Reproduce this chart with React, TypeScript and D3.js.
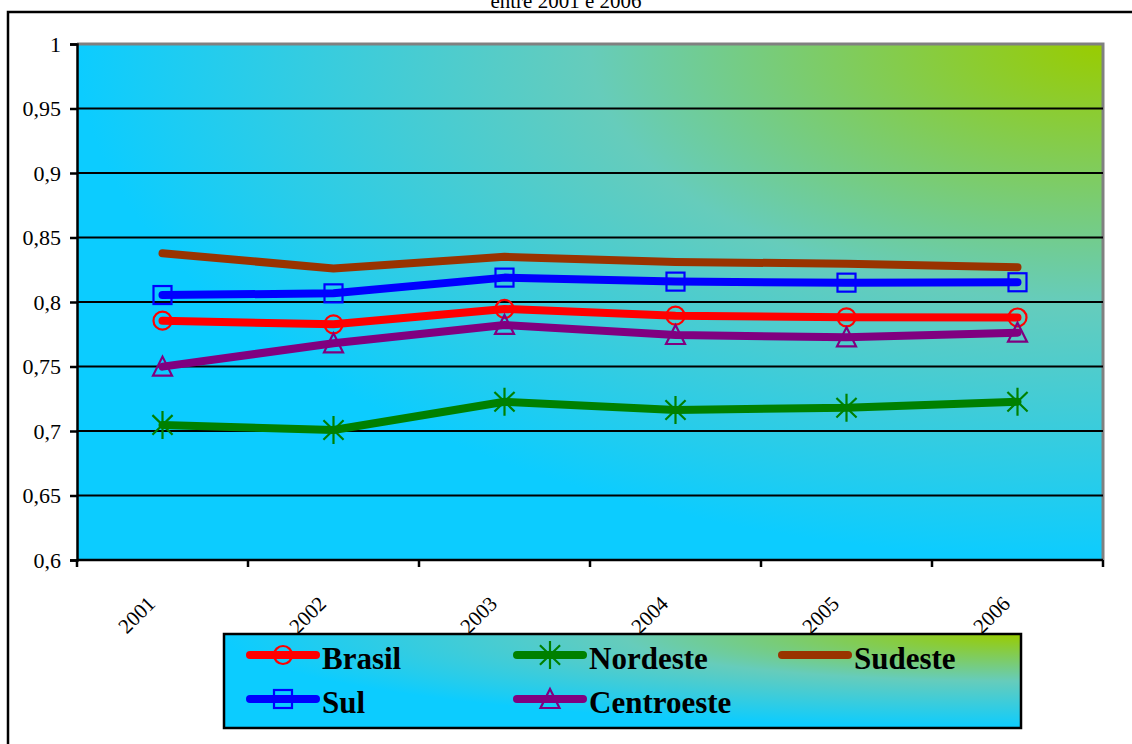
import { useEffect, useRef } from "react";
import * as d3 from "d3";

const years = ["2001", "2002", "2003", "2004", "2005", "2006"];
const yTicks = [0.6, 0.65, 0.7, 0.75, 0.8, 0.85, 0.9, 0.95, 1];

const brasil = [0.7855, 0.7827, 0.7946, 0.7894, 0.7881, 0.788];
const nordeste = [0.7047, 0.7008, 0.7227, 0.7163, 0.718, 0.7227];
const sudeste = [0.8378, 0.826, 0.835, 0.831, 0.8297, 0.827];
const sul = [0.8054, 0.8067, 0.8189, 0.8158, 0.815, 0.8153];
const centroeste = [0.7499, 0.768, 0.7822, 0.7744, 0.7726, 0.7762];

const series = [
    { name: "Brasil", values: brasil, color: "#ff0000", marker: "circle" },
    { name: "Nordeste", values: nordeste, color: "#008000", marker: "star" },
    { name: "Sudeste", values: sudeste, color: "#993300", marker: "none" },
    { name: "Sul", values: sul, color: "#0000ff", marker: "square" },
    { name: "Centroeste", values: centroeste, color: "#800080", marker: "triangle" },
];

const W = 1132;
const H = 744;

const App = () => {
    const svgRef = useRef<SVGSVGElement>(null);

    useEffect(() => {
        if (!svgRef.current) return;
        const svg = d3.select(svgRef.current);
        svg.selectAll("*").remove();

        const plot = { left: 77, top: 44, right: 1103, bottom: 560 };
        const serif = "'Liberation Serif', 'Times New Roman', serif";

        const x = d3.scaleBand().domain(years).range([plot.left, plot.right]);
        const y = d3.scaleLinear().domain([0.6, 1]).range([plot.bottom, plot.top]);

        // gradient from the top-right corner
        const defs = svg.append("defs");
        const grad = defs.append("radialGradient")
            .attr("id", "cornerGrad")
            .attr("cx", 1).attr("cy", 0).attr("r", 1)
            .attr("fx", 1).attr("fy", 0);
        grad.append("stop").attr("offset", "0%").attr("stop-color", "#99cc00");
        grad.append("stop").attr("offset", "50%").attr("stop-color", "#66ccbb");
        grad.append("stop").attr("offset", "100%").attr("stop-color", "#0cccff");

        // outer frame
        svg.append("rect")
            .attr("x", 8).attr("y", 12)
            .attr("width", W + 20).attr("height", H + 20)
            .attr("fill", "white")
            .attr("stroke", "#000")
            .attr("stroke-width", 2.5);

        // title (partly outside the page, as in the original)
        svg.append("text")
            .attr("x", 566).attr("y", 8)
            .attr("text-anchor", "middle")
            .attr("font-family", serif)
            .attr("font-size", 21)
            .text("entre 2001 e 2006");

        // plot area
        svg.append("rect")
            .attr("x", plot.left).attr("y", plot.top)
            .attr("width", plot.right - plot.left)
            .attr("height", plot.bottom - plot.top)
            .attr("fill", "url(#cornerGrad)");

        // gray top/right border
        svg.append("path")
            .attr("d", `M${plot.left},${plot.top}H${plot.right}V${plot.bottom}`)
            .attr("fill", "none")
            .attr("stroke", "#808080")
            .attr("stroke-width", 3);

        // gridlines
        yTicks.filter((t) => t > 0.6 && t < 1).forEach((t) => {
            svg.append("line")
                .attr("x1", plot.left).attr("x2", plot.right)
                .attr("y1", y(t)).attr("y2", y(t))
                .attr("stroke", "#000")
                .attr("stroke-width", 2);
        });

        // y axis
        const yAxis = d3.axisLeft(y)
            .tickValues(yTicks)
            .tickSize(7)
            .tickPadding(9)
            .tickFormat((d) => String(d).replace(".", ","));
        const ya = svg.append("g")
            .attr("transform", `translate(${plot.left},0)`)
            .call(yAxis as any);
        ya.attr("font-family", serif).attr("font-size", 22);
        ya.select(".domain").attr("stroke", "#000").attr("stroke-width", 2.5);
        ya.selectAll(".tick line").attr("stroke", "#000").attr("stroke-width", 2.5);
        ya.selectAll("text")
            .attr("font-family", serif)
            .attr("font-size", 22)
            .attr("fill", "#000");

        // x axis (category axis, ticks between categories)
        const xa = svg.append("g");
        xa.append("line")
            .attr("x1", plot.left).attr("x2", plot.right)
            .attr("y1", plot.bottom).attr("y2", plot.bottom)
            .attr("stroke", "#000").attr("stroke-width", 2.5);
        const bounds = years.map((yr) => x(yr)!).concat([plot.right]);
        bounds.forEach((bx) => {
            xa.append("line")
                .attr("x1", bx).attr("x2", bx)
                .attr("y1", plot.bottom).attr("y2", plot.bottom + 7)
                .attr("stroke", "#000").attr("stroke-width", 2.5);
        });
        years.forEach((yr) => {
            const cx = x(yr)! + x.bandwidth() / 2;
            xa.append("text")
                .attr("transform", `translate(${cx - 6},${plot.bottom + 45}) rotate(-45)`)
                .attr("text-anchor", "end")
                .attr("font-family", serif)
                .attr("font-size", 21)
                .text(yr);
        });

        const drawMarker = (g: any, type: string, cx: number, cy: number, color: string) => {
            if (type === "circle") {
                g.append("circle")
                    .attr("cx", cx).attr("cy", cy).attr("r", 9)
                    .attr("fill", "none").attr("stroke", color).attr("stroke-width", 2.2);
            } else if (type === "square") {
                g.append("rect")
                    .attr("x", cx - 9).attr("y", cy - 9)
                    .attr("width", 18).attr("height", 18)
                    .attr("fill", "none").attr("stroke", color).attr("stroke-width", 2.2);
            } else if (type === "triangle") {
                g.append("path")
                    .attr("d", `M${cx},${cy - 10}L${cx + 9.5},${cy + 9}L${cx - 9.5},${cy + 9}Z`)
                    .attr("fill", "none").attr("stroke", color).attr("stroke-width", 2.2);
            } else if (type === "star") {
                const r = 14;
                const dx = r * 0.72;
                const dy = r * 0.7;
                g.append("path")
                    .attr("d", `M${cx},${cy - r}V${cy + r}M${cx - dx},${cy - dy}L${cx + dx},${cy + dy}M${cx + dx},${cy - dy}L${cx - dx},${cy + dy}`)
                    .attr("fill", "none").attr("stroke", color).attr("stroke-width", 2.2);
            }
        };

        // series
        const line = d3.line<number>()
            .x((_, i) => x(years[i])! + x.bandwidth() / 2)
            .y((d) => y(d));

        series.forEach((s) => {
            const g = svg.append("g");
            g.append("path")
                .attr("d", line(s.values))
                .attr("fill", "none")
                .attr("stroke", s.color)
                .attr("stroke-width", 8)
                .attr("stroke-linecap", "round")
                .attr("stroke-linejoin", "round");
            s.values.forEach((v, i) => {
                drawMarker(g, s.marker, x(years[i])! + x.bandwidth() / 2, y(v), s.color);
            });
        });

        // legend
        const lg = svg.append("g");
        lg.append("rect")
            .attr("x", 224).attr("y", 634)
            .attr("width", 797).attr("height", 94)
            .attr("fill", "url(#cornerGrad)")
            .attr("stroke", "#000")
            .attr("stroke-width", 2.5);
        const colX = [250, 517, 782];
        const rowY = [655, 699];
        series.forEach((s, i) => {
            const lx = colX[i % 3];
            const ly = rowY[Math.floor(i / 3)];
            lg.append("line")
                .attr("x1", lx).attr("x2", lx + 66)
                .attr("y1", ly).attr("y2", ly)
                .attr("stroke", s.color)
                .attr("stroke-width", 8)
                .attr("stroke-linecap", "round");
            drawMarker(lg, s.marker, lx + 33, ly, s.color);
            lg.append("text")
                .attr("x", lx + 72)
                .attr("y", ly + 14)
                .attr("font-family", serif)
                .attr("font-weight", "bold")
                .attr("font-size", 31)
                .text(s.name);
        });
    }, []);

    return (
        <svg
            ref={svgRef}
            width={W}
            height={H}
            style={{ position: "absolute", left: 0, top: 0, display: "block" }}
        />
    );
};

export default App;
